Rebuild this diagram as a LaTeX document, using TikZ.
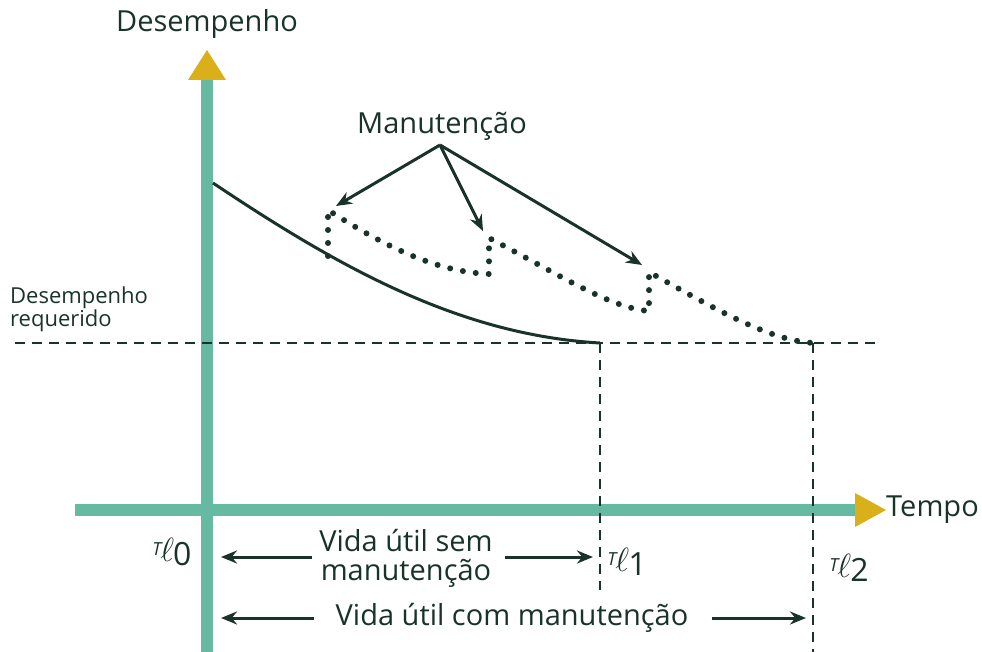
\documentclass[tikz,border=0pt]{standalone}
\usepackage{fontspec}
\setmainfont{Open Sans}
\usetikzlibrary{arrows.meta}

\begin{document}
\begin{tikzpicture}[x=1pt,y=-1pt,
  every node/.style={font=\fontsize{29}{29}\selectfont,text=ink},
  axisline/.style={draw=teal,line width=12pt},
  axistip/.style={fill=gold},
  ptr/.style={draw=ink,line width=3pt,-{Stealth[length=16pt,width=13pt]}},
  limit/.style={draw=ink,line width=2.8pt,dash pattern=on 10pt off 7pt},
  kept/.style={draw=ink,line width=6pt,line cap=round,dash pattern=on 0pt off 13pt},
  tick/.style={font=\fontsize{32}{34}\selectfont\itshape}]
%
\useasboundingbox (0,0) rectangle (982,652);
%
\definecolor{teal}{rgb}{0.40,0.73,0.63}
\definecolor{gold}{rgb}{0.85,0.69,0.10}
\definecolor{ink}{rgb}{0.10,0.20,0.17}
%
% axes
\coordinate (o) at (207,510);
\coordinate (ybot) at (207,652);
\coordinate (ytop) at (207,78);
\coordinate (xleft) at (75,510);
\coordinate (xright) at (857,510);
\draw[axisline] (ybot) -- (ytop);
\draw[axisline] (xleft) -- (xright);
\fill[axistip] (188,80) -- (207,50) -- (226,80) -- cycle;
\fill[axistip] (855,493) -- (886,510) -- (855,527) -- cycle;
\node[anchor=west,inner sep=2pt] (tempo) at (884,510) {Tempo};
\node (desemp) at (207,24) {Desempenho};
%
% required level
\coordinate (reqleft) at (15,343);
\coordinate (reqright) at (880,343);
\draw[limit] (reqleft) -- (reqright);
\node[anchor=west,align=left,inner sep=0pt,font=\fontsize{22}{21}\selectfont] (req) at (10,309) {Desempenho\\requerido};
%
% end of life
\coordinate (t1) at (600,343);
\coordinate (t2) at (813,343);
\coordinate (t1b) at (600,590);
\coordinate (t2b) at (813,652);
\draw[limit] (t1) -- (t1b);
\draw[limit] (t2) -- (t2b);
%
% performance curves
\draw[ink,line width=3pt] (213,183) .. controls (340,268) and (460,335) .. (t1);
\draw[kept] (328,256) -- (328,210)
  .. controls (390,250) and (440,272) .. (489,274) -- (489,238)
  .. controls (560,275) and (610,308) .. (649,311) -- (649,272)
  .. controls (720,312) and (770,340) .. (t2);
%
% maintenance
\node (manut) at (442,126) {Manutenção};
\coordinate (m0) at (440,145);
\draw[ptr] (m0) -- (336,206);
\draw[ptr] (m0) -- (483,231);
\draw[ptr] (m0) -- (642,265);
%
% instants
\node[tick] (tl0) at (172,552) {\raisebox{6pt}{\fontsize{18}{18}\selectfont T}\kern-1pt\scalebox{1.35}{$\ell$}\kern-1pt\raisebox{-4pt}{\upshape 0}};
\node[tick] (tl1) at (627,562) {\raisebox{6pt}{\fontsize{18}{18}\selectfont T}\kern-1pt\scalebox{1.35}{$\ell$}\kern-1pt\raisebox{-4pt}{\upshape 1}};
\node[tick] (tl2) at (849,568) {\raisebox{6pt}{\fontsize{18}{18}\selectfont T}\kern-1pt\scalebox{1.35}{$\ell$}\kern-1pt\raisebox{-4pt}{\upshape 2}};
%
% service life
\node[align=center,inner sep=0pt] (sem) at (406,558) {Vida útil sem\\manutenção};
\coordinate (s0) at (312,557);
\coordinate (s1) at (505,557);
\draw[ptr] (s0) -- (221,557);
\draw[ptr] (s1) -- (593,557);
\node (com) at (512,618) {Vida útil com manutenção};
\coordinate (c0) at (314,618);
\coordinate (c1) at (712,618);
\draw[ptr] (c0) -- (221,618);
\draw[ptr] (c1) -- (806,618);
%
\end{tikzpicture}
\end{document}
